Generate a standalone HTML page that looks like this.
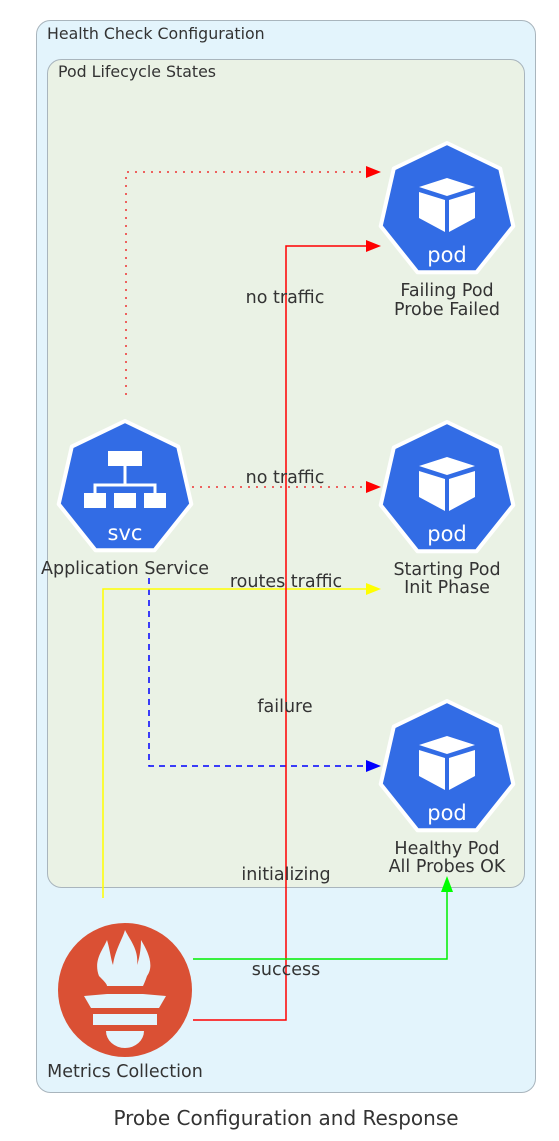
<!DOCTYPE html>
<html><head><meta charset="utf-8"><style>
body{margin:0;background:#fff;}
svg{display:block;font-family:"DejaVu Sans","Liberation Sans",sans-serif;}
</style></head><body>
<svg width="559" height="1141" viewBox="0 0 559 1141" xmlns="http://www.w3.org/2000/svg">
<defs>
<polygon id="hep" points="0,-68 53.2,-42.4 66.3,15.1 29.5,61.3 -29.5,61.3 -66.3,15.1 -53.2,-42.4" fill="#326ce5" stroke="#fff" stroke-width="4" stroke-linejoin="round"/>
<g id="pod">
<use href="#hep"/>
<path d="M-28,-24 L0,-33 L28,-24 L0,-15 Z" fill="#fff"/>
<path d="M-28,-19 L-2,-11 L-2,21 L-28,7 Z" fill="#fff"/>
<path d="M28,-19 L2,-11 L2,21 L28,7 Z" fill="#fff"/>
<text x="0" y="51" text-anchor="middle" font-size="21" fill="#fff">pod</text>
</g>
</defs>
<rect x="36.5" y="20.5" width="499" height="1072" rx="14" fill="#e3f4fc" stroke="#a9b5bd"/>
<text x="47" y="39" font-size="15.8" fill="#333">Health Check Configuration</text>
<rect x="47.5" y="59.5" width="477" height="828" rx="14" fill="#eaf2e5" stroke="#a9b5bd"/>
<text x="58" y="77" font-size="15.8" fill="#333">Pod Lifecycle States</text>

<polyline points="126,395 126,172 366,172" fill="none" stroke="#e33" stroke-width="1.5" stroke-dasharray="2,6"/>
<polygon points="366,166 381,172 366,178" fill="#f00"/>
<polyline points="192,487 366,487" fill="none" stroke="#e33" stroke-width="1.5" stroke-dasharray="2,6"/>
<polygon points="366,481 381,487 366,493" fill="#f00"/>
<polyline points="149,578 149,766 366,766" fill="none" stroke="#00f" stroke-width="1.5" stroke-dasharray="6,5"/>
<polygon points="366,760 381,766 366,772" fill="#00f"/>
<polyline points="103,898 103,589 366,589" fill="none" stroke="#ff0" stroke-width="1.5"/>
<polygon points="366,583 381,589 366,595" fill="#ff0"/>
<polyline points="193,1020 286,1020 286,246 366,246" fill="none" stroke="#f00" stroke-width="1.5"/>
<polygon points="366,240 381,246 366,252" fill="#f00"/>
<polyline points="193,959 447,959 447,892" fill="none" stroke="#0e0" stroke-width="1.5"/>
<polygon points="441,892 447,876 453,892" fill="#0f0"/>

<use href="#pod" x="447" y="211"/>
<use href="#pod" x="447" y="490"/>
<use href="#pod" x="447" y="769"/>
<g transform="translate(125,489)">
<use href="#hep"/>
<rect x="-17" y="-38" width="34" height="15" fill="#fff"/>
<path d="M0,-23 V-4 M-30,4 V-4 H30 V4" stroke="#fff" stroke-width="3" fill="none"/>
<rect x="-41" y="4" width="22" height="15" fill="#fff"/>
<rect x="-11" y="4" width="22" height="15" fill="#fff"/>
<rect x="19" y="4" width="22" height="15" fill="#fff"/>
<text x="0" y="51" text-anchor="middle" font-size="21" fill="#fff">svc</text>
</g>
<g transform="translate(125,990)">
<circle r="67" fill="#da5034"/>
<path d="M-26,-14 C-32,-30 -22,-40 -18,-50 C-15,-40 -14,-30 -12,-25 C-10,-40 -2,-52 0,-60 C5,-50 14,-40 12,-25 C14,-30 16,-40 16,-50 C22,-40 30,-25 22,-14 C20,-8 18,-4 18,-4 L-18,-4 C-18,-6 -22,-10 -26,-14Z" fill="#e3f4fc"/>
<path d="M-41,6 L-18,4 L18,4 L41,6 L34,18 L-34,18Z" fill="#e3f4fc"/>
<rect x="-32" y="24" width="64" height="11" fill="#e3f4fc"/>
<path d="M-19,41 H19 A19,17 0 0 1 -19,41Z" fill="#e3f4fc"/>
</g>

<g font-size="17.5" fill="#333" text-anchor="middle">
<text x="447" y="296">Failing Pod</text>
<text x="447" y="315">Probe Failed</text>
<text x="447" y="575">Starting Pod</text>
<text x="447" y="593">Init Phase</text>
<text x="447" y="854">Healthy Pod</text>
<text x="447" y="872">All Probes OK</text>
<text x="125" y="574">Application Service</text>
<text x="125" y="1077">Metrics Collection</text>
<text x="285" y="303">no traffic</text>
<text x="285" y="483">no traffic</text>
<text x="286" y="587">routes traffic</text>
<text x="285" y="712">failure</text>
<text x="286" y="880">initializing</text>
<text x="286" y="975">success</text>
</g>
<text x="286" y="1125" font-size="20" fill="#333" text-anchor="middle">Probe Configuration and Response</text>
</svg>
</body></html>
